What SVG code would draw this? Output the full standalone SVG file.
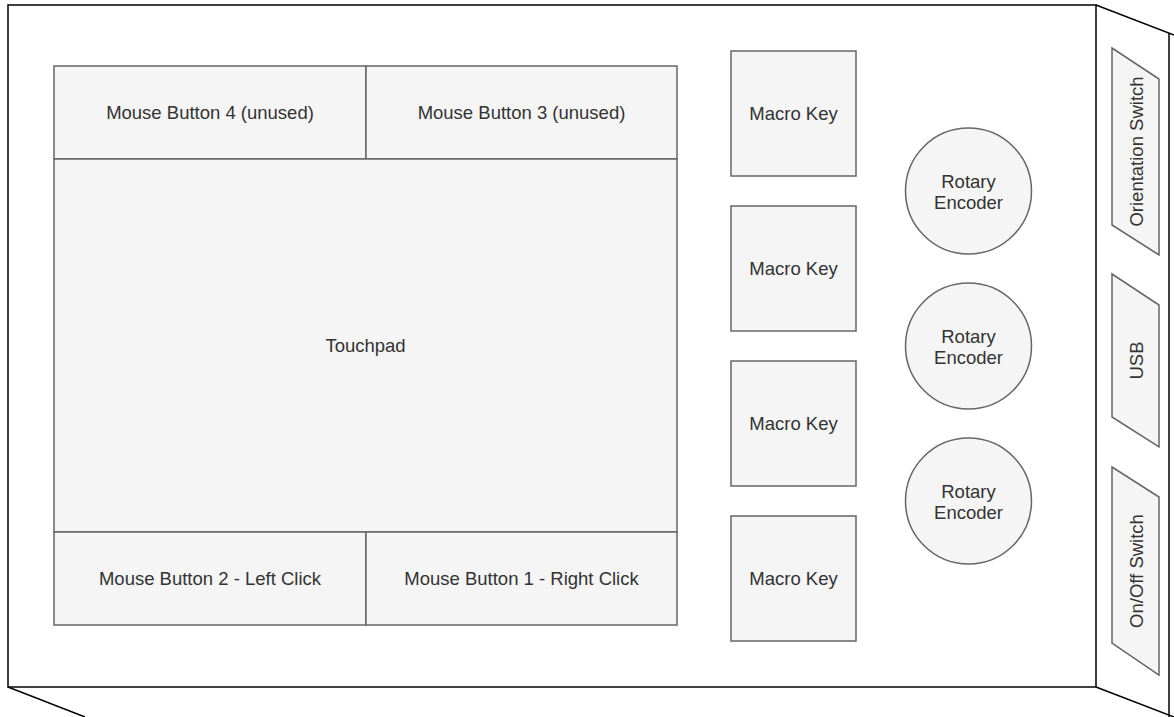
<svg xmlns="http://www.w3.org/2000/svg" width="1174" height="717" viewBox="0 0 1174 717">
  <style>
    .part { fill: #f5f5f5; stroke: #666666; stroke-width: 1.5; }
    .case { fill: #ffffff; stroke: #000000; stroke-width: 1.5; }
    .edge { fill: none; stroke: #000000; stroke-width: 1.5; }
    .lbl { font-family: "Liberation Sans", Arial, sans-serif; font-size: 18.5px; fill: #333333; text-anchor: middle; dominant-baseline: central; }
  </style>

  <rect width="1174" height="717" fill="#ffffff"/>

  <!-- enclosure: front face plus side face in perspective -->
  <g id="enclosure">
    <rect class="case" x="8" y="5" width="1088" height="682"/>
    <polyline class="edge" points="1096,5 1174,35"/>
    <polyline class="edge" points="1169,33 1169,717"/>
    <polyline class="edge" points="1096,687 1174,717"/>
    <polyline class="edge" points="8,687 85,717"/>
  </g>

  <!-- touchpad area -->
  <g id="mouse-button-4">
    <rect class="part" x="54" y="66" width="312" height="93"/>
    <text class="lbl" x="210" y="112.5">Mouse Button 4 (unused)</text>
  </g>
  <g id="mouse-button-3">
    <rect class="part" x="366" y="66" width="311" height="93"/>
    <text class="lbl" x="521.5" y="112.5">Mouse Button 3 (unused)</text>
  </g>
  <g id="touchpad">
    <rect class="part" x="54" y="159" width="623" height="373"/>
    <text class="lbl" x="365.5" y="345.5">Touchpad</text>
  </g>
  <g id="mouse-button-2">
    <rect class="part" x="54" y="532" width="312" height="93"/>
    <text class="lbl" x="210" y="578.5">Mouse Button 2 - Left Click</text>
  </g>
  <g id="mouse-button-1">
    <rect class="part" x="366" y="532" width="311" height="93"/>
    <text class="lbl" x="521.5" y="578.5">Mouse Button 1 - Right Click</text>
  </g>

  <!-- macro keys -->
  <g id="macro-key-1">
    <rect class="part" x="731" y="51" width="125" height="125"/>
    <text class="lbl" x="793.5" y="113.5">Macro Key</text>
  </g>
  <g id="macro-key-2">
    <rect class="part" x="731" y="206" width="125" height="125"/>
    <text class="lbl" x="793.5" y="268.5">Macro Key</text>
  </g>
  <g id="macro-key-3">
    <rect class="part" x="731" y="361" width="125" height="125"/>
    <text class="lbl" x="793.5" y="423.5">Macro Key</text>
  </g>
  <g id="macro-key-4">
    <rect class="part" x="731" y="516" width="125" height="125"/>
    <text class="lbl" x="793.5" y="578.5">Macro Key</text>
  </g>

  <!-- rotary encoders -->
  <g id="encoder-1">
    <circle class="part" cx="968.5" cy="191" r="63"/>
    <text class="lbl" x="968.5" y="181">Rotary</text>
    <text class="lbl" x="968.5" y="202">Encoder</text>
  </g>
  <g id="encoder-2">
    <circle class="part" cx="968.5" cy="346" r="63"/>
    <text class="lbl" x="968.5" y="336">Rotary</text>
    <text class="lbl" x="968.5" y="357">Encoder</text>
  </g>
  <g id="encoder-3">
    <circle class="part" cx="968.5" cy="501" r="63"/>
    <text class="lbl" x="968.5" y="491">Rotary</text>
    <text class="lbl" x="968.5" y="512">Encoder</text>
  </g>

  <!-- side-face ports and switches -->
  <g id="orientation-switch">
    <polygon class="part" points="1112,48 1159,79 1159,255 1112,225"/>
    <text class="lbl" transform="translate(1136,151.5) rotate(-90)">Orientation Switch</text>
  </g>
  <g id="usb">
    <polygon class="part" points="1112,274 1159,305 1159,447 1112,417"/>
    <text class="lbl" transform="translate(1136,360.5) rotate(-90)">USB</text>
  </g>
  <g id="power-switch">
    <polygon class="part" points="1112,467 1159,497 1159,675 1112,643"/>
    <text class="lbl" transform="translate(1136,571) rotate(-90)">On/Off Switch</text>
  </g>

  <g id="connectors"/>
</svg>
